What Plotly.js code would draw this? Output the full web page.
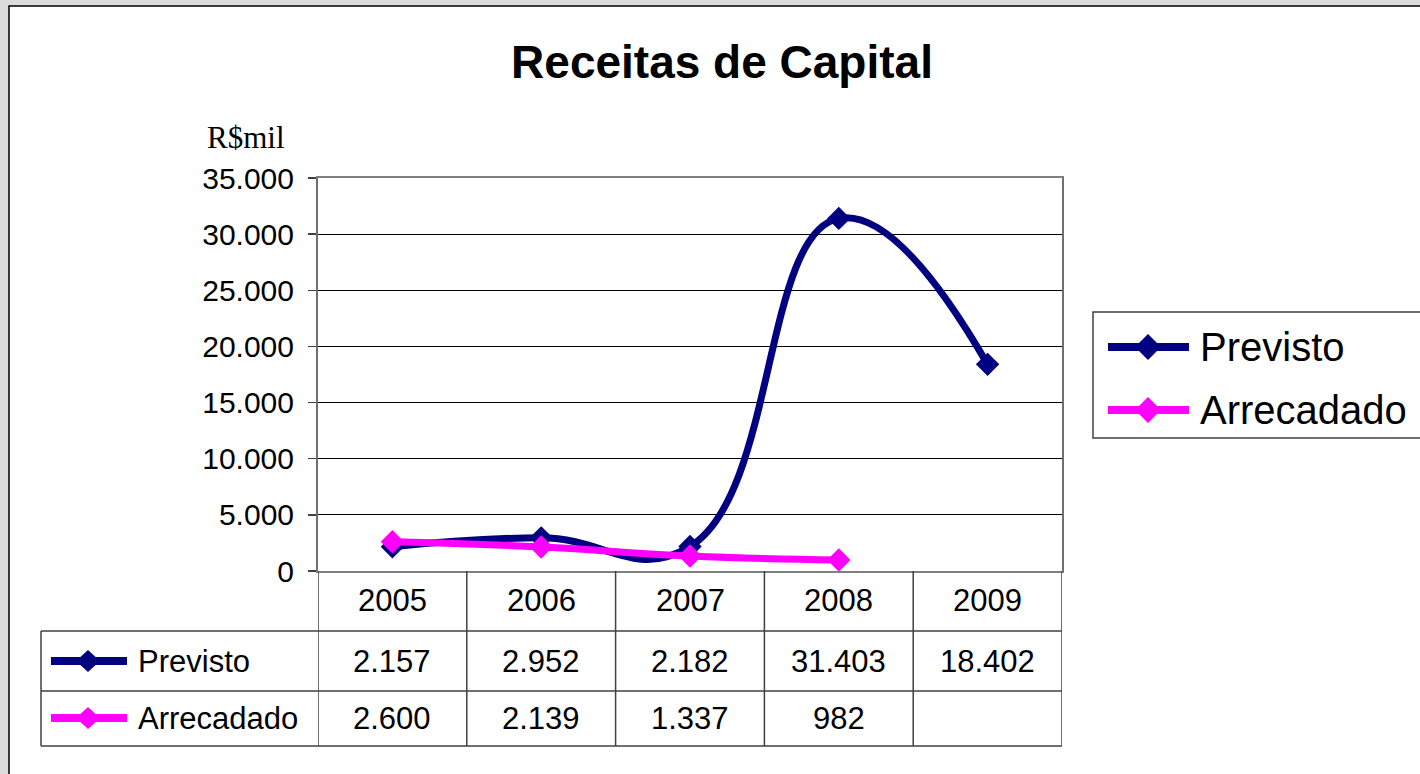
<!DOCTYPE html>
<html>
<head>
<meta charset="utf-8">
<script src="https://cdn.plot.ly/plotly-3.0.1.min.js"></script>
<style>
html,body{margin:0;padding:0;background:#dcdcdc;}
#chart{width:1420px;height:774px;}
</style>
</head>
<body>
<div id="chart"></div>
<script>
// ---- data ----
const categories = ['2005', '2006', '2007', '2008', '2009'];
const seriesNames = ['Previsto', 'Arrecadado'];
const previsto = [2157, 2952, 2182, 31403, 18402];
const arrecadado = [2600, 2139, 1337, 982, null];
const yTickValues = [0, 5000, 10000, 15000, 20000, 25000, 30000, 35000];
const chartTitle = 'Receitas de Capital';
const unitLabel = 'R$mil';

// ---- layout helpers ----
const W = 1420, H = 774;
const L = 318, R = 1062, T = 178, B = 571;
const px = v => (v - L) / (R - L);
const py = v => (B - v) / (B - T);
const colors = ['#000080', '#FF00FF'];
const seriesData = [previsto, arrecadado];
const fmt = v => (v === null || v === undefined) ? '' : String(v).replace(/\B(?=(\d{3})+(?!\d))/g, '.');
const SANS = 'Liberation Sans, Arial, sans-serif';

const traces = seriesNames.map((name, i) => ({
  type: 'scatter',
  mode: 'lines+markers',
  name: name,
  x: categories,
  y: seriesData[i],
  line: {color: colors[i], width: 7, shape: 'spline', smoothing: 1.3},
  marker: {symbol: 'diamond', size: 18, color: colors[i]},
  connectgaps: false,
  showlegend: false,
  hoverinfo: 'x+y'
}));

const shapes = [];
const annotations = [];

// white inner frame
shapes.push({type: 'rect', xref: 'paper', yref: 'paper', layer: 'below',
  x0: px(9), x1: px(1440), y0: py(790), y1: py(6),
  fillcolor: '#ffffff', line: {color: '#000000', width: 1.5}});

// table grid
const gridColor = '#404040';
const rowTop = py(571), rowH1 = py(631), rowH2 = py(691), rowBot = py(746);
for (let i = 0; i <= categories.length; i++) {
  shapes.push({type: 'line', xref: 'x', yref: 'paper', x0: i - 0.5, x1: i - 0.5,
    y0: rowTop, y1: rowBot, line: {color: gridColor, width: 1.5}});
}
[rowH1, rowH2, rowBot].forEach(y => {
  shapes.push({type: 'line', xref: 'paper', yref: 'paper', x0: px(41), x1: px(1062),
    y0: y, y1: y, line: {color: gridColor, width: 1.5}});
});
shapes.push({type: 'line', xref: 'paper', yref: 'paper', x0: px(41), x1: px(41),
  y0: rowH1, y1: rowBot, line: {color: gridColor, width: 1.5}});

// column centres in paper coordinates (category i sits at index i)
const colX = i => (i + 0.5) / categories.length;

// header row (years)
categories.forEach((c, i) => {
  annotations.push({xref: 'paper', yref: 'paper', x: colX(i), y: py(600), text: c, showarrow: false,
    xanchor: 'center', yanchor: 'middle', font: {family: SANS, size: 31, color: '#000'}});
});

// data rows
const rowCenters = [py(661), py(718)];
seriesNames.forEach((name, s) => {
  const yc = rowCenters[s];
  categories.forEach((c, i) => {
    const t = fmt(seriesData[s][i]);
    if (t) annotations.push({xref: 'paper', yref: 'paper', x: colX(i), y: yc, text: t, showarrow: false,
      xanchor: 'center', yanchor: 'middle', font: {family: SANS, size: 31, color: '#000'}});
  });
  // legend key in table
  shapes.push({type: 'line', xref: 'paper', yref: 'paper', x0: px(51), x1: px(127), y0: yc, y1: yc,
    line: {color: colors[s], width: 8}});
  shapes.push({type: 'path', xref: 'paper', yref: 'paper', xsizemode: 'pixel', ysizemode: 'pixel',
    xanchor: px(88), yanchor: yc, path: 'M -12 0 L 0 11 L 12 0 L 0 -11 Z',
    fillcolor: colors[s], line: {color: colors[s], width: 0}});
  annotations.push({xref: 'paper', yref: 'paper', x: px(136), y: yc, text: name, showarrow: false,
    xanchor: 'left', yanchor: 'middle', font: {family: SANS, size: 31, color: '#000'}});
});

// right legend
shapes.push({type: 'rect', xref: 'paper', yref: 'paper', x0: px(1093), x1: px(1440),
  y0: py(438), y1: py(312), fillcolor: 'rgba(0,0,0,0)', line: {color: '#404040', width: 1.5}});
const legY = [py(347), py(410)];
seriesNames.forEach((name, s) => {
  shapes.push({type: 'line', xref: 'paper', yref: 'paper', x0: px(1108), x1: px(1189), y0: legY[s], y1: legY[s],
    line: {color: colors[s], width: 8}});
  shapes.push({type: 'path', xref: 'paper', yref: 'paper', xsizemode: 'pixel', ysizemode: 'pixel',
    xanchor: px(1148), yanchor: legY[s], path: 'M -13 0 L 0 13 L 13 0 L 0 -13 Z',
    fillcolor: colors[s], line: {color: colors[s], width: 0}});
  annotations.push({xref: 'paper', yref: 'paper', x: px(1198), y: legY[s], text: name, showarrow: false,
    xanchor: 'left', yanchor: 'middle', font: {family: SANS, size: 40, color: '#000'}});
});

// unit label
annotations.push({xref: 'paper', yref: 'paper', x: px(246), y: py(137), text: unitLabel, showarrow: false,
  xanchor: 'center', yanchor: 'middle', font: {family: 'Liberation Serif, Times New Roman, serif', size: 31, color: '#000'}});

const layout = {
  width: W, height: H,
  paper_bgcolor: '#dcdcdc',
  plot_bgcolor: '#ffffff',
  separators: ',.',
  margin: {l: L, r: W - R, t: T, b: H - B, pad: 0},
  title: {text: chartTitle, x: 722 / W, xanchor: 'center', y: 1 - 62 / H, yanchor: 'middle',
    font: {family: SANS, size: 46, weight: 'bold', color: '#000'}},
  xaxis: {type: 'category', range: [-0.5, categories.length - 0.5], showticklabels: false,
    ticks: '', showgrid: false, zeroline: false, showline: true, mirror: true,
    linecolor: '#7f7f7f', linewidth: 2, fixedrange: true},
  yaxis: {range: [0, 35000], tickvals: yTickValues, tickformat: ',d', ticks: 'outside', ticklen: 8,
    tickcolor: '#404040', tickwidth: 1.5, showgrid: true, gridcolor: '#000000', gridwidth: 1,
    zeroline: false, showline: true, mirror: true, linecolor: '#6f6f6f', linewidth: 2,
    tickfont: {family: SANS, size: 30, color: '#000'}, ticklabelstandoff: 8, fixedrange: true},
  showlegend: false,
  shapes: shapes,
  annotations: annotations
};

Plotly.newPlot('chart', traces, layout, {displayModeBar: false, staticPlot: true});
</script>
</body>
</html>
